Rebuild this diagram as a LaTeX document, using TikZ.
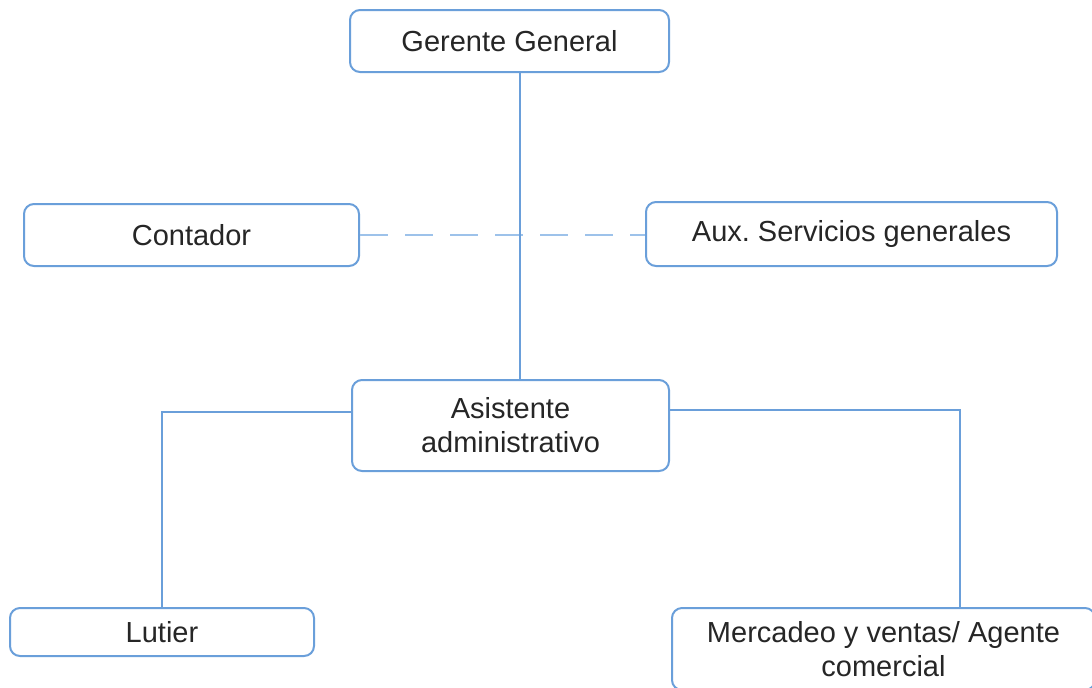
\documentclass[tikz,border=0pt]{standalone}
\usepackage{fontspec}
\setmainfont{Liberation Sans}
\frenchspacing
\definecolor{orgblue}{HTML}{6A9FDA}
\definecolor{orgdash}{HTML}{9DC2EA}

\begin{document}
\begin{tikzpicture}[x=0.5pt,y=-0.5pt,
    cargo/.style={draw=orgblue, line width=1pt, rounded corners=5pt,
      fill=white, align=center, inner sep=0pt, text=black!85,
      font=\fontsize{14.5}{17}\selectfont},
    enlace/.style={draw=orgblue, line width=1pt},
    apoyo/.style={draw=orgdash, line width=1.2pt, dash pattern=on 14pt off 8.5pt}]
    \useasboundingbox (0,0) rectangle (1092,687);
    \clip (0,0) rectangle (1092,687);
    % cargos
    \node[cargo, minimum width=159.5pt, minimum height=31pt] (gerente) at (509.5,41) {Gerente General};
    \node[cargo, minimum width=167.5pt, minimum height=31pt] (contador) at (191.5,235) {Contador};
    \node[cargo, minimum width=205.5pt, minimum height=32pt] (aux) at (851.5,234) {Aux. Servicios generales};
    \node[cargo, minimum width=158.5pt, minimum height=45.5pt] (asistente) at (510.5,425.5) {Asistente\\administrativo};
    \node[cargo, minimum width=152pt, minimum height=24pt] (lutier) at (162,632) {Lutier};
    \node[cargo, minimum width=211.5pt, minimum height=41pt] (mercadeo) at (883.5,649) {Mercadeo y ventas/ Agente\\comercial};
    % lineas
    \coordinate (eje) at (520,0);
    \coordinate (izq) at (162,412);
    \coordinate (der) at (960,410);
    \draw[apoyo] (contador.east) -- (contador.east -| aux.west);
    \draw[enlace] (gerente.south -| eje) -- (asistente.north -| eje);
    \draw[enlace] (asistente.west |- izq) -- (izq) -- (lutier.north);
    \draw[enlace] (asistente.east |- der) -- (der) -- (mercadeo.north -| der);
\end{tikzpicture}
\end{document}
